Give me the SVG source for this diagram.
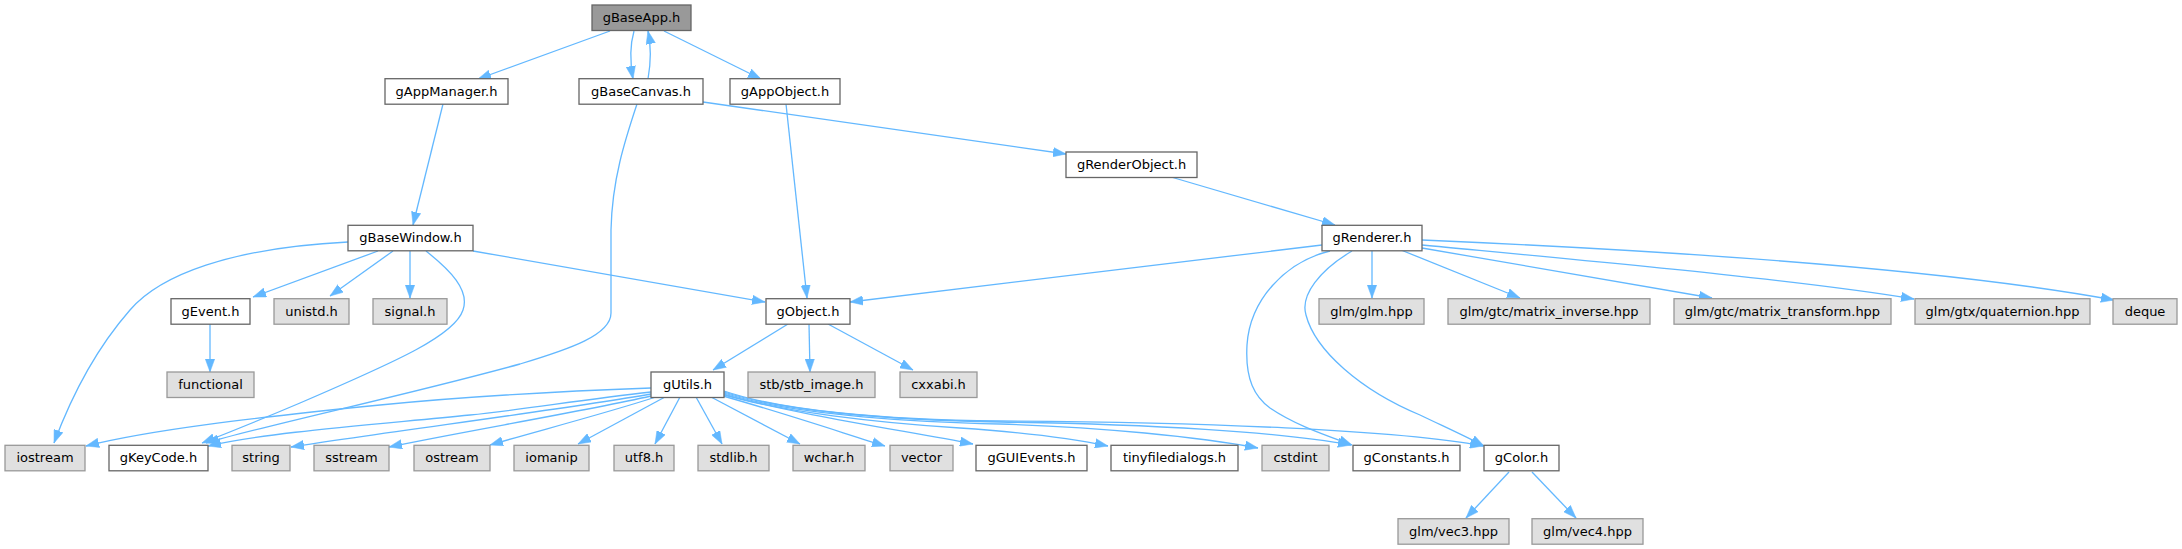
<svg xmlns="http://www.w3.org/2000/svg" width="2182" height="549" viewBox="0 0 2182 549">
<style>
rect{stroke-width:1.3}
.w rect{fill:#ffffff;stroke:#666666}
.x rect{fill:#e0e0e0;stroke:#999999}
.r rect{fill:#999999;stroke:#666666}
text{font-family:"DejaVu Sans","Liberation Sans",sans-serif;font-size:13px;text-anchor:middle;fill:#000000}
#edges path{fill:none;stroke:#63b8ff;stroke-width:1.3;marker-end:url(#a)}
</style>
<defs>
<marker id="a" markerUnits="userSpaceOnUse" markerWidth="13" markerHeight="10" viewBox="0 0 13 9.4" refX="13" refY="4.7" orient="auto">
<path d="M0,0 L13,4.7 L0,9.4 z" fill="#63b8ff" stroke="#63b8ff" stroke-width="0.5"/>
</marker>
</defs>
<rect width="2182" height="549" fill="#ffffff"/>
<g id="edges">
<path d="M610,31 L478,79"/>
<path d="M634,31 C630,45 630,62 633,79"/>
<path d="M648,79 C651,62 651,45 648,31"/>
<path d="M664,31 L761,79"/>
<path d="M443,104 L413,225"/>
<path d="M703,102 L1066,154"/>
<path d="M637,104 C625,140 612,180 611,230 L611,313 C611,335 570,349 520,364 C400,397 270,424 206,443"/>
<path d="M786,104 L807,298"/>
<path d="M1171,177 L1335,225"/>
<path d="M348,242 C230,248 160,275 130,310 C95,350 70,400 54,443"/>
<path d="M378,251 L253,297"/>
<path d="M393,251 L330,296"/>
<path d="M410,251 L410,298"/>
<path d="M426,251 C450,270 470,290 463,310 C455,335 400,360 300,403 C260,420 230,432 202,443"/>
<path d="M473,251 L765,302"/>
<path d="M210,324 L210,372"/>
<path d="M1322,245 L850,302"/>
<path d="M1330,251 C1285,262 1250,300 1247,345 C1245,380 1255,397 1270,408 C1295,425 1325,435 1352,445"/>
<path d="M1352,251 C1320,270 1300,295 1306,315 C1315,350 1360,390 1420,415 C1445,427 1465,436 1484,446"/>
<path d="M1372,250 L1372,298"/>
<path d="M1401,250 L1520,298"/>
<path d="M1422,248 L1712,298"/>
<path d="M1422,245 C1600,262 1800,280 1914,299"/>
<path d="M1422,240 C1700,252 1950,270 2114,300"/>
<path d="M788,324 L713,370"/>
<path d="M809,324 L810,372"/>
<path d="M828,324 L913,370"/>
<path d="M651,388 C540,392 450,398 380,405 C250,418 150,430 86,446"/>
<path d="M651,392 C580,400 520,410 470,415 C370,425 270,432 208,446"/>
<path d="M651,394 C560,410 400,430 291,447"/>
<path d="M651,396 C580,412 460,432 389,447"/>
<path d="M656,397 C600,415 530,433 490,445"/>
<path d="M665,397 L578,444"/>
<path d="M680,397 L655,444"/>
<path d="M696,397 L722,444"/>
<path d="M711,397 L800,444"/>
<path d="M723,396 C780,412 840,432 885,446"/>
<path d="M724,395 C800,415 900,430 973,444"/>
<path d="M724,394 C780,412 880,423 960,428 C1020,432 1070,438 1108,446"/>
<path d="M724,393 C780,411 880,421 1000,424 C1100,427 1200,437 1258,448"/>
<path d="M724,392 C780,410 880,420 1000,422 C1150,424 1280,432 1351,445"/>
<path d="M724,391 C780,410 880,420 1000,421 C1200,422 1400,430 1483,446"/>
<path d="M1509,472 L1466,518"/>
<path d="M1532,472 L1576,518"/>
</g>
<g id="n_gBaseApp" class="r"><rect x="592" y="5" width="99" height="25.5"/><text x="641.5" y="22">gBaseApp.h</text></g>
<g id="n_gAppManager" class="w"><rect x="385" y="78.7" width="123" height="25.5"/><text x="446.5" y="95.7">gAppManager.h</text></g>
<g id="n_gBaseCanvas" class="w"><rect x="579" y="78.7" width="124" height="25.5"/><text x="641" y="95.7">gBaseCanvas.h</text></g>
<g id="n_gAppObject" class="w"><rect x="730" y="78.7" width="110" height="25.5"/><text x="785" y="95.7">gAppObject.h</text></g>
<g id="n_gRenderObject" class="w"><rect x="1066" y="152" width="131" height="25.5"/><text x="1131.5" y="169">gRenderObject.h</text></g>
<g id="n_gBaseWindow" class="w"><rect x="348" y="225.3" width="125" height="25.5"/><text x="410.5" y="242.3">gBaseWindow.h</text></g>
<g id="n_gRenderer" class="w"><rect x="1322" y="225.3" width="100" height="25.5"/><text x="1372" y="242.3">gRenderer.h</text></g>
<g id="n_gEvent" class="w"><rect x="171" y="298.7" width="79" height="25.5"/><text x="210.5" y="315.7">gEvent.h</text></g>
<g id="n_unistd" class="x"><rect x="274" y="298.7" width="75" height="25.5"/><text x="311.5" y="315.7">unistd.h</text></g>
<g id="n_signal" class="x"><rect x="373" y="298.7" width="74" height="25.5"/><text x="410" y="315.7">signal.h</text></g>
<g id="n_gObject" class="w"><rect x="766" y="298.7" width="84" height="25.5"/><text x="808" y="315.7">gObject.h</text></g>
<g id="n_glm" class="x"><rect x="1319" y="298.7" width="105" height="25.5"/><text x="1371.5" y="315.7">glm/glm.hpp</text></g>
<g id="n_minv" class="x"><rect x="1448" y="298.7" width="202" height="25.5"/><text x="1549" y="315.7">glm/gtc/matrix_inverse.hpp</text></g>
<g id="n_mtr" class="x"><rect x="1674" y="298.7" width="217" height="25.5"/><text x="1782.5" y="315.7">glm/gtc/matrix_transform.hpp</text></g>
<g id="n_quat" class="x"><rect x="1915" y="298.7" width="175" height="25.5"/><text x="2002.5" y="315.7">glm/gtx/quaternion.hpp</text></g>
<g id="n_deque" class="x"><rect x="2113" y="298.7" width="64" height="25.5"/><text x="2145" y="315.7">deque</text></g>
<g id="n_functional" class="x"><rect x="167" y="372" width="87" height="25.5"/><text x="210.5" y="389">functional</text></g>
<g id="n_gUtils" class="w"><rect x="651" y="372" width="73" height="25.5"/><text x="687.5" y="389">gUtils.h</text></g>
<g id="n_stb" class="x"><rect x="748" y="372" width="127" height="25.5"/><text x="811.5" y="389">stb/stb_image.h</text></g>
<g id="n_cxxabi" class="x"><rect x="900" y="372" width="77" height="25.5"/><text x="938.5" y="389">cxxabi.h</text></g>
<g id="n_iostream" class="x"><rect x="5" y="445.3" width="80" height="25.5"/><text x="45" y="462.3">iostream</text></g>
<g id="n_gKeyCode" class="w"><rect x="109" y="445.3" width="99" height="25.5"/><text x="158.5" y="462.3">gKeyCode.h</text></g>
<g id="n_string" class="x"><rect x="232" y="445.3" width="58" height="25.5"/><text x="261" y="462.3">string</text></g>
<g id="n_sstream" class="x"><rect x="314" y="445.3" width="75" height="25.5"/><text x="351.5" y="462.3">sstream</text></g>
<g id="n_ostream" class="x"><rect x="414" y="445.3" width="76" height="25.5"/><text x="452" y="462.3">ostream</text></g>
<g id="n_iomanip" class="x"><rect x="514" y="445.3" width="75" height="25.5"/><text x="551.5" y="462.3">iomanip</text></g>
<g id="n_utf8" class="x"><rect x="614" y="445.3" width="60" height="25.5"/><text x="644" y="462.3">utf8.h</text></g>
<g id="n_stdlib" class="x"><rect x="698" y="445.3" width="71" height="25.5"/><text x="733.5" y="462.3">stdlib.h</text></g>
<g id="n_wchar" class="x"><rect x="793" y="445.3" width="72" height="25.5"/><text x="829" y="462.3">wchar.h</text></g>
<g id="n_vector" class="x"><rect x="890" y="445.3" width="63" height="25.5"/><text x="921.5" y="462.3">vector</text></g>
<g id="n_gGUIEvents" class="w"><rect x="976" y="445.3" width="111" height="25.5"/><text x="1031.5" y="462.3">gGUIEvents.h</text></g>
<g id="n_tinyfd" class="w"><rect x="1111" y="445.3" width="127" height="25.5"/><text x="1174.5" y="462.3">tinyfiledialogs.h</text></g>
<g id="n_cstdint" class="x"><rect x="1262" y="445.3" width="67" height="25.5"/><text x="1295.5" y="462.3">cstdint</text></g>
<g id="n_gConstants" class="w"><rect x="1353" y="445.3" width="107" height="25.5"/><text x="1406.5" y="462.3">gConstants.h</text></g>
<g id="n_gColor" class="w"><rect x="1484" y="445.3" width="75" height="25.5"/><text x="1521.5" y="462.3">gColor.h</text></g>
<g id="n_vec3" class="x"><rect x="1398" y="518.7" width="111" height="25.5"/><text x="1453.5" y="535.7">glm/vec3.hpp</text></g>
<g id="n_vec4" class="x"><rect x="1532" y="518.7" width="111" height="25.5"/><text x="1587.5" y="535.7">glm/vec4.hpp</text></g>
</svg>
